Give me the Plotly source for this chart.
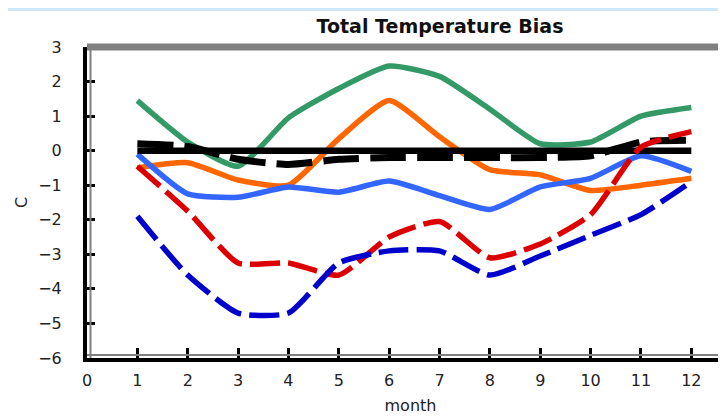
import plotly.graph_objects as go

months = list(range(1, 13))

green_solid = [1.45, 0.25, -0.45, 0.95, 1.8, 2.45, 2.15, 1.2, 0.2, 0.25, 1.0, 1.25]
orange_solid = [-0.5, -0.35, -0.85, -1.0, 0.35, 1.45, 0.4, -0.55, -0.7, -1.15, -1.0, -0.8]
blue_solid = [-0.1, -1.25, -1.35, -1.05, -1.2, -0.88, -1.3, -1.7, -1.05, -0.8, -0.15, -0.6]
black_solid = [0, 0, 0, 0, 0, 0, 0, 0, 0, 0, 0, 0]
black_dash = [0.2, 0.12, -0.25, -0.4, -0.25, -0.2, -0.2, -0.2, -0.2, -0.15, 0.25, 0.3]
red_dash = [-0.45, -1.75, -3.25, -3.25, -3.6, -2.5, -2.05, -3.1, -2.7, -1.85, 0.1, 0.55]
navy_dash = [-1.9, -3.6, -4.7, -4.7, -3.25, -2.9, -2.9, -3.6, -3.05, -2.45, -1.85, -0.9]

series = [
    ("green", green_solid, "#339966", 5.5, "solid"),
    ("orange", orange_solid, "#FF6600", 5.5, "solid"),
    ("blue", blue_solid, "#3366FF", 5.5, "solid"),
    ("zero", black_solid, "#000000", 6.5, "solid"),
    ("black dashed", black_dash, "#000000", 7, "36px,11px"),
    ("red dashed", red_dash, "#DD0000", 5.5, "30px,8px"),
    ("navy dashed", navy_dash, "#0000CC", 5.5, "30px,8px"),
]

fig = go.Figure()
for name, vals, color, width, dash in series:
    fig.add_trace(go.Scatter(
        x=months, y=vals, name=name, mode="lines",
        line=dict(color=color, width=width, dash=dash, shape="spline", smoothing=0.55),
    ))

tick_font = dict(family="DejaVu Sans", size=16, color="#222222")

fig.update_layout(
    width=726, height=420,
    margin=dict(l=79, r=0, t=39, b=70),
    paper_bgcolor="white", plot_bgcolor="white",
    showlegend=False,
    title=dict(
        text="<b>Total Temperature Bias</b>",
        x=(432 - 79) / 647, xref="paper", xanchor="center",
        y=1 - 18 / 420, yanchor="middle",
        font=dict(family="DejaVu Sans", size=19, color="#111111"),
    ),
    xaxis=dict(
        range=[0, 647 / 50.36], tickvals=list(range(0, 13)),
        showgrid=False, zeroline=False,
        showline=True, linecolor="black", linewidth=4,
        ticks="inside", ticklen=10, tickwidth=3, tickcolor="black",
        tickfont=tick_font, ticklabelstandoff=5,
        title=dict(text="month", font=tick_font, standoff=12),
    ),
    yaxis=dict(
        range=[-6, 3], tickvals=list(range(-6, 4)),
        showgrid=False, zeroline=False,
        showline=True, linecolor="black", linewidth=4,
        ticks="inside", ticklen=8, tickwidth=3, tickcolor="black",
        tickfont=tick_font, ticklabelstandoff=18,
        title=dict(text="C", font=tick_font, standoff=8),
    ),
    shapes=[
        # top gray border of the plot area
        dict(type="line", xref="paper", yref="paper", x0=0, x1=1, y0=1, y1=1,
             line=dict(color="#808080", width=7)),
        # gray shading inside the left and bottom axes
        dict(type="line", xref="paper", yref="paper", x0=3.5 / 647, x1=3.5 / 647, y0=0, y1=1,
             line=dict(color="#808080", width=2)),
        dict(type="line", xref="paper", yref="paper", x0=0, x1=1, y0=3 / 311, y1=3 / 311,
             line=dict(color="#808080", width=2)),
        # light blue strip along the top edge
        dict(type="rect", xref="paper", yref="paper", x0=-79 / 647, x1=1,
             y0=1 + 36 / 311, y1=1 + 39 / 311,
             line=dict(width=0), fillcolor="#CDE9F8", layer="below"),
    ],
)

fig.write_html("out.html")
